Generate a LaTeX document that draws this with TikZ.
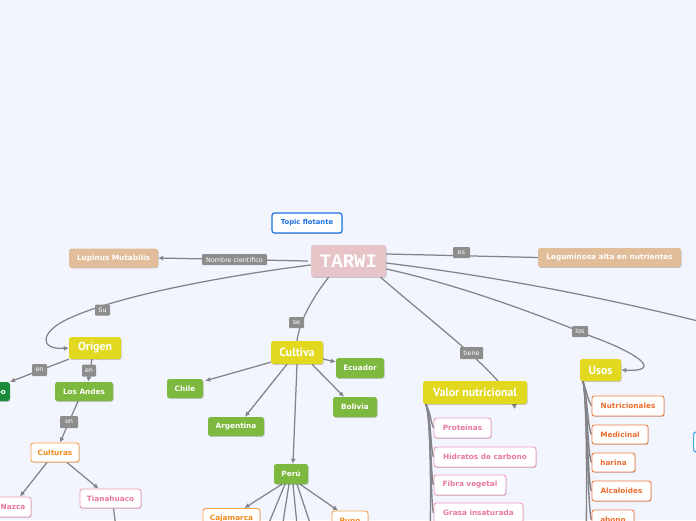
\documentclass[tikz,border=0pt]{standalone}
\usepackage{fontspec}
\setmainfont{DejaVu Sans}
\newfontfamily\ptsans{PT Sans}
\newfontfamily\monofont{Liberation Mono}
\usetikzlibrary{shadows,arrows.meta}
\definecolor{bgc}{HTML}{F2F5FD}
\definecolor{pinkc}{HTML}{E6C4C8}
\definecolor{tanc}{HTML}{E2BD99}
\definecolor{ylwc}{HTML}{E2D81F}
\definecolor{grnc}{HTML}{7DB83F}
\definecolor{dgrnc}{HTML}{1B8A3A}
\definecolor{pinkb}{HTML}{EC9BBE}
\definecolor{pinkt}{HTML}{E8789F}
\definecolor{orgb}{HTML}{F5A045}
\definecolor{orgt}{HTML}{F28A1E}
\definecolor{redb}{HTML}{EE7D45}
\definecolor{redt}{HTML}{EC6E2E}
\definecolor{bluec}{HTML}{1B74E4}
\definecolor{bluet}{HTML}{1B6FE0}
\definecolor{blue2}{HTML}{45A8E5}
\definecolor{lblc}{HTML}{8D8D8D}
\definecolor{connc}{HTML}{838388}
\pgfdeclarelayer{bgzero}
\pgfdeclarelayer{edges}
\pgfsetlayers{bgzero,edges,main}
\begin{document}
\begin{tikzpicture}[x=1pt,y=-1pt,
  shad/.style={drop shadow={shadow xshift=0.6pt,shadow yshift=-0.9pt,fill=black,opacity=0.2}},
  box/.style={rounded corners=2.5pt,inner sep=0pt,shad},
  sm/.style={font=\bfseries\fontsize{7.3}{8}\selectfont},
  tanbox/.style={box,sm,fill=tanc,text=white},
  grnbox/.style={box,sm,fill=grnc,text=white},
  dgrnbox/.style={box,sm,fill=dgrnc,text=white},
  ylwbox/.style={box,fill=ylwc,text=white,font=\ptsans\bfseries\fontsize{11.8}{13}\selectfont},
  pinkbox/.style={box,sm,fill=white,draw=pinkb,line width=0.9pt,text=pinkt},
  orgbox/.style={box,sm,fill=white,draw=orgb,line width=0.9pt,text=orgt},
  redbox/.style={box,sm,fill=white,draw=redb,line width=0.9pt,text=redt},
  lbl/.style={fill=lblc,text=white,rounded corners=1pt,inner sep=0pt,font=\fontsize{6.4}{7}\selectfont},
  conn/.style={draw=connc,line width=1.25pt},
  arr/.style={conn,-{Latex[length=5pt,width=5pt]}},
  brk/.style={draw=connc,line width=1.4pt}
]
\begin{pgfonlayer}{bgzero}
\fill[bgc] (0,0) rectangle (696,520);
\end{pgfonlayer}
\useasboundingbox (0,0) rectangle (696,520);

% main nodes
\node[box,fill=white,draw=bluec,line width=1.2pt,text=bluet,font=\bfseries\fontsize{6.8}{8}\selectfont,minimum width=70pt,minimum height=20pt] (topic) at (307,223) {Topic flotante};
\node[box,fill=pinkc,text=white,font=\monofont\bfseries\fontsize{19}{20}\selectfont,minimum width=75pt,minimum height=32pt] (tarwi) at (348.5,261) {TARWI};
\node[tanbox,minimum width=89pt,minimum height=19pt] (lupinus) at (113.5,258) {Lupinus Mutabilis};
\node[tanbox,minimum width=143pt,minimum height=19pt] (legum) at (609.5,257.5) {Leguminosa alta en nutrientes};
\node[ylwbox,minimum width=52pt,minimum height=22pt] (origen) at (95,348) {Origen};
\node[ylwbox,minimum width=52pt,minimum height=23pt] (cultiva) at (297,352.5) {Cultiva};
\node[ylwbox,minimum width=104pt,minimum height=23pt] (valor) at (475,392.5) {Valor nutricional};
\node[ylwbox,minimum width=41pt,minimum height=22pt] (usos) at (600.5,370) {Usos};

% Origen branch
\node[dgrnbox,anchor=east,inner xsep=4pt,minimum height=19pt] (medit) at (10,391.5) {Mediterráneo};
\node[grnbox,minimum width=58pt,minimum height=19pt] (andes) at (84,391.5) {Los Andes};
\node[orgbox,minimum width=48pt,minimum height=19pt] (culturas) at (55,452.5) {Culturas};
\node[pinkbox,minimum width=36pt,minimum height=20pt] (nazca) at (13,507) {Nazca};
\node[pinkbox,minimum width=61pt,minimum height=19pt] (tiana) at (110.5,498.5) {Tianahuaco};
\coordinate (tianaout) at (117,535);

% Cultiva branch
\node[grnbox,minimum width=36pt,minimum height=19pt] (chile) at (185,388.5) {Chile};
\node[grnbox,minimum width=48pt,minimum height=20pt] (ecuador) at (360,368) {Ecuador};
\node[grnbox,minimum width=56pt,minimum height=19pt] (argentina) at (236,426.5) {Argentina};
\node[grnbox,minimum width=44pt,minimum height=20pt] (bolivia) at (355,407) {Bolivia};
\node[grnbox,minimum width=34pt,minimum height=20pt] (peru) at (291,474) {Perú};
\node[orgbox,minimum width=57pt,minimum height=20pt] (cajamarca) at (231.5,518.5) {Cajamarca};
\node[orgbox,minimum width=36pt,minimum height=20pt] (puno) at (350,521) {Puno};
\coordinate (pa) at (264,535);
\coordinate (pb) at (281,535);
\coordinate (pc) at (298,535);
\coordinate (pd) at (314,535);

% Valor nutricional branch
\node[pinkbox,minimum width=57pt,minimum height=20pt] (prot) at (462.5,428) {Proteínas};
\node[pinkbox,minimum width=102pt,minimum height=20pt] (hidr) at (485,457) {Hidratos de carbono};
\node[pinkbox,minimum width=72pt,minimum height=20pt] (fibra) at (470,485) {Fibra vegetal};
\node[pinkbox,minimum width=89pt,minimum height=20pt] (grasa) at (478.5,513) {Grasa insaturada};
\coordinate (valorout) at (430,540);

% Usos branch
\node[redbox,minimum width=72pt,minimum height=20pt] (nutri) at (628,406) {Nutricionales};
\node[redbox,minimum width=56pt,minimum height=19pt] (medic) at (620,434.5) {Medicinal};
\node[redbox,minimum width=43pt,minimum height=19pt] (harina) at (613.5,462.5) {harina};
\node[redbox,minimum width=59pt,minimum height=20pt] (alcal) at (621.5,491) {Alcaloides};
\node[redbox,minimum width=42pt,minimum height=20pt] (abono) at (613,520) {abono};
\coordinate (usosout) at (586,540);

\node[box,fill=white,draw=blue2,line width=1.2pt,anchor=west,minimum width=60pt,minimum height=20pt] (bluenode) at (693,442) {};
\coordinate (rightout) at (745,333);

\begin{pgfonlayer}{edges}
\draw[arr] ([xshift=-3pt]tarwi.west) -- (lupinus.east);
\draw[conn] ([yshift=7pt]tarwi.east) -- (legum.west);
\draw[arr] ([yshift=-4pt]tarwi.west) .. controls (230,275) and (120,295) .. (70,318)
   .. controls (40,331) and (38,350) .. (origen.west);
\draw[conn] ([xshift=-20pt]tarwi.south) .. controls (315,295) and (300,318) .. (cultiva.north);
\draw[conn] ([xshift=32pt]tarwi.south) .. controls (430,320) and (470,350) .. (498,381) -- ([xshift=40pt,yshift=-4pt]valor.south);
\draw[arr] ([xshift=40pt,yshift=-1pt]valor.south) -- ([xshift=40pt,yshift=-4pt]valor.south);
\draw[arr] ([yshift=-8pt]tarwi.east) .. controls (460,285) and (540,315) .. (593,337)
   .. controls (635,352) and (665,372) .. (usos.east);
\draw[conn] ([yshift=-2pt]tarwi.east) .. controls (500,277) and (620,300) .. (rightout);

\draw[arr] (origen.south west) -- (medit.north east);
\draw[arr] ([xshift=-3pt]origen.south) -- ([xshift=4pt]andes.north);
\draw[arr] ([xshift=-6pt]andes.south) -- ([xshift=5pt]culturas.north);
\draw[arr] ([xshift=-8pt]culturas.south) -- ([xshift=7pt]nazca.north);
\draw[arr] ([xshift=12pt]culturas.south) -- ([xshift=-12pt]tiana.north);
\draw[conn] ([xshift=3pt]tiana.south) -- (tianaout);

\draw[arr] ([yshift=2pt]cultiva.south west) -- ([xshift=2pt,yshift=-2pt]chile.north east);
\draw[arr] ([yshift=-6.5pt]cultiva.east) -- ([yshift=6pt]ecuador.west);
\draw[arr] ([xshift=-10pt]cultiva.south) -- ([xshift=9pt]argentina.north);
\draw[arr] ([xshift=15pt]cultiva.south) -- ([xshift=-11pt]bolivia.north);
\draw[arr] (cultiva.south) -- ([xshift=2pt]peru.north);
\draw[arr] ([xshift=-9pt]peru.south) -- ([xshift=13pt]cajamarca.north);
\draw[arr] ([xshift=9pt]peru.south) -- ([xshift=-12pt]puno.north);
\draw[conn] ([xshift=-6pt]peru.south) -- (pa);
\draw[conn] ([xshift=-2pt]peru.south) -- (pb);
\draw[conn] ([xshift=2pt]peru.south) -- (pc);
\draw[conn] ([xshift=6pt]peru.south) -- (pd);

\foreach \c in {prot,hidr,fibra,grasa}
  \draw[brk] ([xshift=3pt]valor.south west) .. controls (431,414) and ([xshift=-3pt,yshift=6pt]\c.west) .. (\c.west);
\draw[brk] ([xshift=3pt]valor.south west) .. controls (431,414) and (431,500) .. (valorout);
\foreach \c in {nutri,medic,harina,alcal,abono}
  \draw[brk] ([xshift=3pt]usos.south west) .. controls (587,392) and ([xshift=-4pt,yshift=6pt]\c.west) .. (\c.west);
\draw[brk] ([xshift=3pt]usos.south west) .. controls (587,392) and (587,500) .. (usosout);
\end{pgfonlayer}

% connector labels
\node[lbl,minimum width=65pt,minimum height=11pt] (lnombre) at (234.5,259.5) {Nombre científico};
\node[lbl,minimum width=17pt,minimum height=11pt] (les) at (461.5,252.5) {es};
\node[lbl,minimum width=15pt,minimum height=11pt] (lsu) at (102.5,310) {Su};
\node[lbl,minimum width=15pt,minimum height=11pt] (lse) at (296.5,322.5) {se};
\node[lbl,minimum width=15pt,minimum height=12pt] (len1) at (39.5,370) {en};
\node[lbl,minimum width=14pt,minimum height=12pt] (len2) at (89,370.5) {en};
\node[lbl,minimum width=18pt,minimum height=12pt] (len3) at (69,422) {en};
\node[lbl,minimum width=23pt,minimum height=12pt] (ltiene) at (471.5,353) {tiene};
\node[lbl,minimum width=16pt,minimum height=11pt] (llos) at (580,331.5) {los};
\end{tikzpicture}
\end{document}
